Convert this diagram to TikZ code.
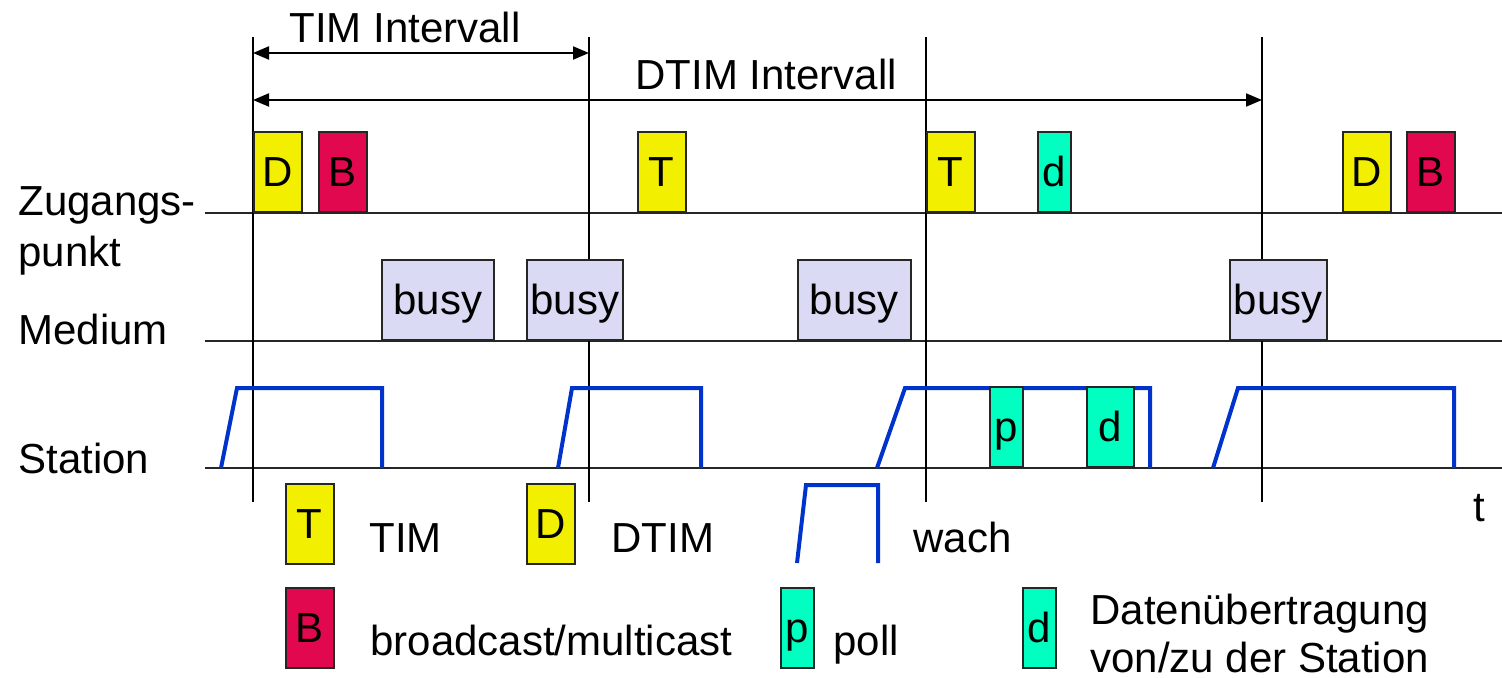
\documentclass[tikz,border=0pt]{standalone}
\usepackage{fontspec}
\setmainfont{Liberation Sans}
\usetikzlibrary{arrows.meta}

\definecolor{timyellow}{RGB}{242,240,0}
\definecolor{bcred}{RGB}{226,8,80}
\definecolor{dataaqua}{RGB}{0,255,192}
\definecolor{busylav}{RGB}{218,218,244}
\definecolor{wakeblue}{RGB}{0,51,204}

\begin{document}
\begin{tikzpicture}[x=0.5pt, y=-0.5pt,
  font=\fontsize{21}{24}\selectfont,
  frame/.style={draw=black!85, line width=0.8pt, inner sep=0pt,
    minimum height=40pt, text height=19pt, text depth=4.45pt,
    anchor=south west},
  bar/.style={frame, minimum width=24pt},
  slim/.style={frame, minimum width=16.5pt},
  busybox/.style={frame, fill=busylav},
  label/.style={inner sep=0pt, anchor=base west},
  track/.style={draw=black!85, line width=1pt},
  tick/.style={draw=black, line width=1pt},
  wave/.style={draw=wakeblue, line width=2pt, line join=miter},
  span/.style={line width=1pt, {Triangle[length=8pt,width=6.5pt]}-{Triangle[length=8pt,width=6.5pt]}}]
  \useasboundingbox (0,0) rectangle (1502,678);

  % time lines
  \coordinate (apL) at (205,213);  \coordinate (apR) at (1502,213);
  \coordinate (medL) at (205,341); \coordinate (medR) at (1502,341);
  \coordinate (stL) at (205,468);  \coordinate (stR) at (1502,468);
  \path[track] (apL) -- (apR) (medL) -- (medR) (stL) -- (stR);

  % beacon instants
  \foreach \x [count=\i] in {253,589,926,1262} {
    \coordinate (top\i) at (\x,37);
    \coordinate (bot\i) at (\x,502);
    \path[tick] (top\i) -- (bot\i);
  }

  % intervals
  \coordinate (timL) at (253,53);  \coordinate (timR) at (589,53);
  \coordinate (dtimL) at (253,100); \coordinate (dtimR) at (1262,100);
  \draw[span] (timL) -- (timR);
  \draw[span] (dtimL) -- (dtimR);
  \node[label] (timtxt) at (289,43) {TIM Intervall};
  \node[label] (dtimtxt) at (635,90) {DTIM Intervall};

  % row labels
  \node[label, align=left] (aptxt) at (18,267) {Zugangs-\\[1.5pt]punkt};
  \node[label] (medtxt) at (18,344) {Medium};
  \node[label] (sttxt) at (18,473) {Station};
  \node[label] (ttxt) at (1473,521) {t};

  % access point
  \node[bar, fill=timyellow] (apD1) at (253,213) {D};
  \node[bar, fill=bcred] (apB1) at (318,213) {B};
  \node[bar, fill=timyellow] (apT1) at (637,213) {T};
  \node[bar, fill=timyellow] (apT2) at (926,213) {T};
  \node[slim, fill=dataaqua] (apd) at (1037,213) {d};
  \node[bar, fill=timyellow] (apD2) at (1342,213) {D};
  \node[bar, fill=bcred] (apB2) at (1406,213) {B};

  % medium
  \node[busybox, minimum width=56pt] (med1) at (381,341) {busy};
  \node[busybox, minimum width=48pt] (med2) at (526,341) {busy};
  \node[busybox, minimum width=56.5pt] (med3) at (797,341) {busy};
  \node[busybox, minimum width=48.5pt] (med4) at (1229,341) {busy};

  % station
  \foreach \a/\b/\c in {221/237/382, 558/572/701, 877/905/1150, 1213/1238/1454}
    \draw[wave] (\a,468) -- (\b,388) -- (\c,388) -- (\c,468);
  \node[slim, fill=dataaqua] (stp) at (989,468) {p};
  \node[frame, fill=dataaqua, minimum width=23.5pt] (std) at (1086,468) {d};

  % legend
  \node[bar, fill=timyellow] (legT) at (285,565) {T};
  \node[label] (legTtxt) at (369,552) {TIM};
  \node[bar, fill=timyellow] (legD) at (526,565) {D};
  \node[label] (legDtxt) at (611,552) {DTIM};
  \draw[wave] (797,563) -- (806,485) -- (878,485) -- (878,563);
  \node[label] (legwtxt) at (913,552) {wach};
  \node[bar, fill=bcred] (legB) at (285,669) {B};
  \node[label] (legBtxt) at (370,655) {broadcast/multicast};
  \node[slim, fill=dataaqua] (legp) at (780,669) {p};
  \node[label] (legptxt) at (833,655) {poll};
  \node[slim, fill=dataaqua] (legd) at (1022,669) {d};
  \node[label, align=left] (legdtxt) at (1090,672) {Datenübertragung\\von/zu der Station};
\end{tikzpicture}
\end{document}
